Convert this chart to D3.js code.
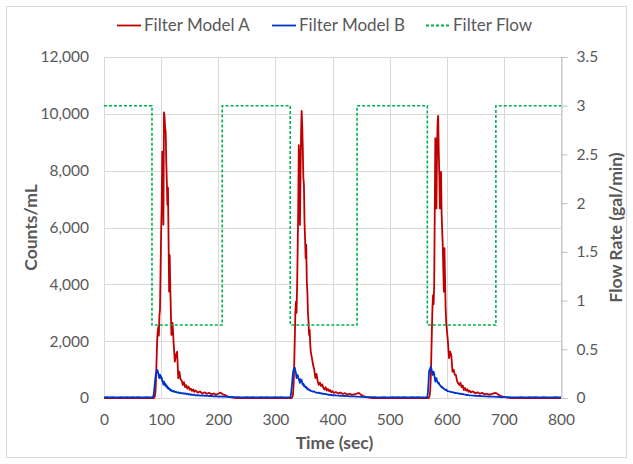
<!DOCTYPE html>
<html>
<head>
<meta charset="utf-8">
<script src="https://cdn.jsdelivr.net/npm/d3@7"></script>
<style>
  html, body { margin: 0; padding: 0; background: #fff; }
  svg { display: block; font-family: Lato, "Open Sans", sans-serif; }
</style>
</head>
<body>
<svg id="chart" width="633" height="464"></svg>
<script>
// Sample times (seconds) shared by both particle-count series
const seconds = [
  0,5,10,15,20,25,30,35,40,45,50,55,60,65,70,75,80,85,
  86,87,88,89,90,91,92,93,94,95,96,97,98,99,100,101,102,103,104,105,106,107,108,109,110,
  111,112,113,114,115,116,117,118,119,120,
  122,124,126,128,130,132,134,136,138,140,142,144,146,148,150,152,154,156,158,160,
  164,168,172,176,180,184,188,192,196,200,204,208,212,216,220,224,228,232,236,
  240,245,250,255,260,265,270,275,280,285,290,295,300,305,310,315,320,325,
  326,327,328,329,330,331,332,333,334,335,336,337,338,339,340,341,342,343,344,345,346,
  347,348,349,350,351,352,353,354,355,356,357,358,359,360,361,362,
  364,366,368,370,372,374,376,378,380,382,384,386,388,390,392,394,396,398,400,402,
  406,410,414,418,422,426,430,434,438,442,446,450,454,458,462,466,470,474,478,
  485,490,495,500,505,510,515,520,525,530,535,540,545,550,555,560,565,
  566,567,568,569,570,571,572,573,574,575,576,577,578,579,580,581,582,583,584,585,586,
  587,588,589,590,591,592,593,594,595,596,597,598,599,600,601,602,
  604,606,608,610,612,614,616,618,620,622,624,626,628,630,632,634,636,638,640,642,
  646,650,654,658,662,666,670,674,678,682,686,690,694,698,702,706,710,714,718,
  725,730,735,740,745,750,755,760,765,770,775,780,785,790,795,800
];

// Filter Model A, counts/mL
const modelA = [
  0,0,0,0,0,0,0,0,0,0,0,0,0,0,0,0,0,0,
  0,0,20,60,200,600,1300,2000,2330,2500,2200,2900,3100,4500,5800,6800,8670,8100,6100,10050,9900,9500,9370,8300,7600,
  6800,7400,5600,3740,5030,3900,3100,2220,2500,2640,
  1900,1280,1500,1630,700,925,650,620,460,560,380,450,330,400,290,330,250,300,220,270,
  190,230,160,200,150,180,130,160,120,150,190,130,100,60,40,20,5,0,0,
  0,0,0,0,0,0,0,0,0,0,0,0,0,0,0,0,0,0,
  0,0,0,10,40,150,500,1200,2100,3000,3390,3000,3870,5200,6700,8900,8400,6090,7800,9300,10100,
  9600,8800,7740,7500,6200,5600,4920,5400,4100,3740,3000,2700,2220,2400,1900,1630,
  1400,1160,1000,700,850,600,460,540,420,480,350,300,380,260,320,240,280,200,240,180,
  210,160,190,140,170,120,150,110,130,150,180,110,70,40,20,5,0,0,0,
  0,0,0,0,0,0,0,0,0,0,0,0,0,0,0,0,0,
  0,0,0,20,80,250,700,1500,2400,3200,3620,3300,3980,6500,9140,8600,6670,8800,9700,9930,8670,
  7800,6670,7300,7960,6500,5900,5380,4500,3740,5270,4200,3200,2680,2450,2220,2000,
  1400,1630,1500,925,1000,820,810,600,520,460,540,380,440,280,350,260,310,220,260,200,
  230,170,200,150,180,130,150,120,140,160,180,120,80,50,30,15,5,0,0,
  0,0,0,0,0,0,0,0,0,0,0,0,0,0,0,0
];

// Filter Model B, counts/mL
const modelB = [
  22,28,20,30,25,18,27,24,30,22,26,20,28,25,23,27,24,26,
  40,120,300,520,700,860,930,990,950,870,760,700,820,780,690,720,600,560,470,580,520,440,490,400,430,
  350,380,320,340,290,300,260,280,240,230,
  250,210,220,190,200,170,190,160,170,150,165,140,150,125,135,110,125,105,115,95,
  100,85,95,80,85,70,75,60,65,50,55,45,48,40,35,38,30,28,26,
  24,20,27,22,29,25,19,26,23,28,21,25,30,22,26,24,20,27,
  30,80,250,460,700,900,1000,1060,1070,960,880,700,780,810,720,650,600,530,660,600,630,
  520,470,500,420,440,400,370,390,330,350,300,310,280,290,260,250,
  240,220,230,200,190,180,190,165,170,150,155,140,145,125,115,120,105,110,95,100,
  90,85,80,75,70,65,60,55,55,50,45,42,40,35,32,30,28,26,25,
  22,27,20,25,29,23,26,21,28,24,19,26,23,27,22,25,24,
  40,200,500,925,1000,1045,1100,1040,950,810,880,925,850,700,575,640,700,600,560,520,540,
  480,450,430,400,410,360,370,340,330,300,290,280,300,260,250,240,
  230,220,205,210,185,190,170,175,160,150,155,140,145,125,120,105,110,100,95,90,
  85,80,75,70,65,60,55,52,48,45,42,40,36,34,30,28,26,25,24,
  22,26,20,25,28,23,27,21,24,26,20,25,22,27,23,24
];

// Filter flow rate (gal/min), stepped
const flowTimes = [0, 84, 84, 207, 207, 326, 326, 443, 443, 566, 566, 686, 686, 800];
const flowRates = [3, 3, 0.75, 0.75, 3, 3, 0.75, 0.75, 3, 3, 0.75, 0.75, 3, 3];

const countTicks = [0, 2000, 4000, 6000, 8000, 10000, 12000];
const flowTicks = [0, 0.5, 1, 1.5, 2, 2.5, 3, 3.5];
const timeTicks = [0, 100, 200, 300, 400, 500, 600, 700, 800];

const seriesNames = ["Filter Model A", "Filter Model B", "Filter Flow"];
const seriesColors = ["#C00000", "#0033CC", "#00B050"];

const svg = d3.select("#chart");
const m = { left: 104, right: 561, top: 57, bottom: 398 };

const x = d3.scaleLinear().domain([0, 800]).range([m.left, m.right]);
const yL = d3.scaleLinear().domain([0, 12000]).range([m.bottom, m.top]);
const yR = d3.scaleLinear().domain([0, 3.5]).range([m.bottom, m.top]);

const textColor = "#595959";
const gridColor = "#d9d9d9";

// chart area border
svg.append("rect")
  .attr("x", 6.5).attr("y", 6.5).attr("width", 620).attr("height", 451)
  .attr("fill", "#fff").attr("stroke", gridColor).attr("stroke-width", 1);

// gridlines
const grid = svg.append("g").attr("stroke", gridColor).attr("stroke-width", 1);
grid.selectAll("line.h").data(countTicks).join("line")
  .attr("x1", m.left).attr("x2", m.right)
  .attr("y1", d => Math.round(yL(d)) + 0.5).attr("y2", d => Math.round(yL(d)) + 0.5);
grid.selectAll("line.v").data(timeTicks).join("line")
  .attr("y1", m.top).attr("y2", m.bottom)
  .attr("x1", d => Math.round(x(d)) + 0.5).attr("x2", d => Math.round(x(d)) + 0.5);

// left axis (labels only)
const leftAxis = svg.append("g")
  .attr("transform", `translate(${m.left},0)`)
  .call(d3.axisLeft(yL).tickValues(countTicks).tickFormat(d3.format(",")).tickSize(0).tickPadding(15));
leftAxis.select(".domain").remove();

// bottom axis (labels only)
const bottomAxis = svg.append("g")
  .attr("transform", `translate(0,${m.bottom})`)
  .call(d3.axisBottom(x).tickValues(timeTicks).tickFormat(d3.format("d")).tickSize(0).tickPadding(16));
bottomAxis.select(".domain").remove();

// right axis with outward ticks
const rightAxis = svg.append("g")
  .attr("transform", `translate(${m.right + 0.5},0)`)
  .call(d3.axisRight(yR).tickValues(flowTicks).tickFormat(d => d3.format("")(d)).tickSizeOuter(0).tickSize(6).tickPadding(9));
rightAxis.select(".domain").attr("stroke", "#bfbfbf");
rightAxis.selectAll(".tick line").attr("stroke", "#bfbfbf");

svg.selectAll(".tick text")
  .attr("fill", textColor)
  .style("font-size", "15.5px")
  .style("font-family", "Lato, 'Open Sans', sans-serif");

// axis titles
const titleSize = "17.5px";
svg.append("text")
  .attr("transform", `translate(37,${(m.top + m.bottom) / 2}) rotate(-90)`)
  .attr("text-anchor", "middle")
  .attr("fill", textColor).style("font-size", titleSize).style("font-weight", "bold")
  .text("Counts/mL");
svg.append("text")
  .attr("transform", `translate(622,${(m.top + m.bottom) / 2}) rotate(-90)`)
  .attr("text-anchor", "middle")
  .attr("fill", textColor).style("font-size", titleSize).style("font-weight", "bold")
  .text("Flow Rate (gal/min)");
svg.append("text")
  .attr("x", (m.left + m.right) / 2 + 2).attr("y", 449)
  .attr("text-anchor", "middle")
  .attr("fill", textColor).style("font-size", titleSize).style("font-weight", "bold")
  .text("Time (sec)");

// data lines
const countLine = d3.line().x((d, i) => x(seconds[i])).y(d => yL(d));
const flowLine = d3.line().x((d, i) => x(flowTimes[i])).y(d => yR(d));

const plot = svg.append("g");
plot.append("path").datum(modelA)
  .attr("d", countLine).attr("fill", "none")
  .attr("stroke", seriesColors[0]).attr("stroke-width", 1.8).attr("stroke-linejoin", "round");
plot.append("path").datum(modelB)
  .attr("d", countLine).attr("fill", "none")
  .attr("stroke", seriesColors[1]).attr("stroke-width", 1.8).attr("stroke-linejoin", "round");
plot.append("path").datum(flowRates)
  .attr("d", flowLine).attr("fill", "none")
  .attr("stroke", seriesColors[2]).attr("stroke-width", 1.6).attr("stroke-dasharray", "3,2");

// legend
const legendX = [117, 272, 426];
const legend = svg.append("g");
seriesNames.forEach((name, i) => {
  const g = legend.append("g").attr("transform", `translate(${legendX[i]},25)`);
  g.append("line").attr("x1", 0).attr("x2", 24).attr("y1", 0.5).attr("y2", 0.5)
    .attr("stroke", seriesColors[i]).attr("stroke-width", 1.8)
    .attr("stroke-dasharray", i === 2 ? "3,2" : null);
  g.append("text").attr("x", 27).attr("y", 6)
    .attr("fill", textColor).style("font-size", "17px")
    .text(name);
});
</script>
</body>
</html>
